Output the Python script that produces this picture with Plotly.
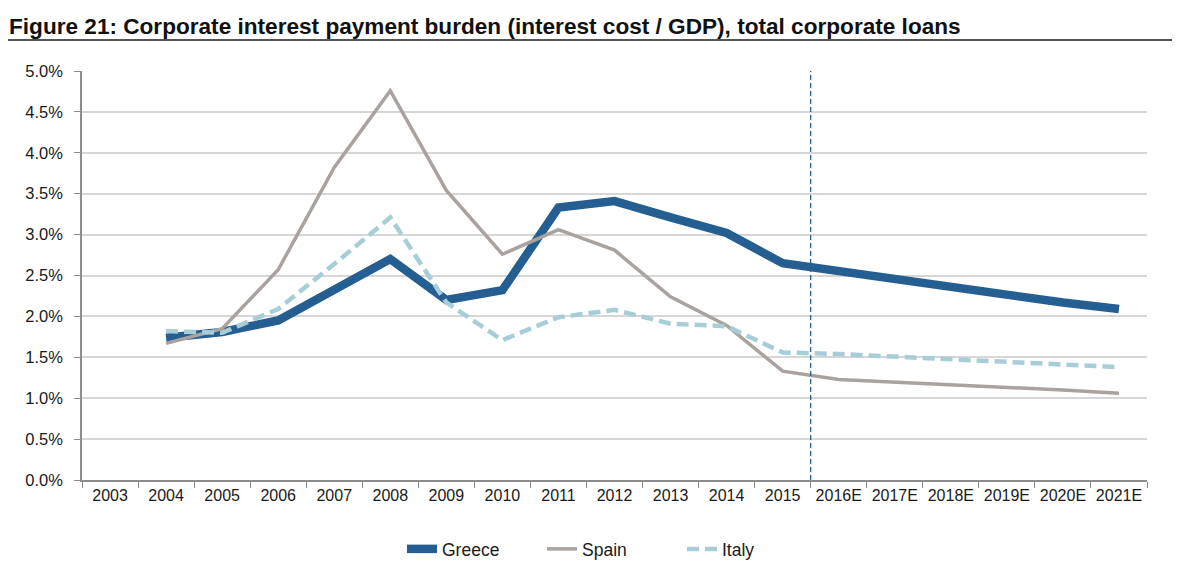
import plotly.graph_objects as go

years = ["2003", "2004", "2005", "2006", "2007", "2008", "2009", "2010", "2011",
         "2012", "2013", "2014", "2015", "2016E", "2017E", "2018E", "2019E",
         "2020E", "2021E"]

greece = [None, 1.74, 1.81, 1.95, 2.32, 2.70, 2.20, 2.32, 3.33, 3.41, 3.21,
          3.02, 2.65, 2.55, 2.45, 2.35, 2.25, 2.17, 2.09]
spain = [None, 1.67, 1.85, 2.57, 3.82, 4.76, 3.54, 2.76, 3.06, 2.81, 2.24,
         1.89, 1.33, 1.23, 1.20, 1.17, 1.13, 1.10, 1.06]
italy = [None, 1.82, 1.80, 2.09, 2.64, 3.21, 2.17, 1.71, 1.99, 2.08, 1.91,
         1.88, 1.56, 1.54, 1.51, 1.48, 1.45, 1.42, 1.38]

def pct(v):
    return [None if x is None else x / 100 for x in v]

FONT = "Liberation Sans, Arial, sans-serif"

fig = go.Figure()
fig.add_trace(go.Scatter(x=years, y=pct(greece), name="Greece", mode="lines",
                         line=dict(color="#255E91", width=8.5)))
fig.add_trace(go.Scatter(x=years, y=pct(spain), name="Spain", mode="lines",
                         line=dict(color="#A9A29F", width=3.5)))
fig.add_trace(go.Scatter(x=years, y=pct(italy), name="Italy", mode="lines",
                         line=dict(color="#A7CDD7", width=4.5, dash="12px,6px")))

# page body has an 8px margin; plot area in page coords: x 82..1147, y 71..480
OFF = 8
W, H = 1200 - OFF, 586 - OFF
L, T = 82 - OFF, 71 - OFF
R = W - (1147 - OFF)
B = H - (480 - OFF)
pw = 1147 - 82
ph = 480 - 71

def px_x(p):
    return (p - 82) / pw

def px_y(p):
    return (480 - p) / ph

fig.update_layout(
    width=W, height=H,
    margin=dict(l=L, r=R, t=T, b=B, pad=0),
    paper_bgcolor="white", plot_bgcolor="white",
    font=dict(family=FONT, size=16, color="#1a1a1a"),
    showlegend=True,
    legend=dict(orientation="h", x=px_x(612), xanchor="center",
                y=px_y(549), yanchor="middle",
                font=dict(size=17.5, color="#1a1a1a"),
                entrywidth=95, entrywidthmode="pixels",
                traceorder="normal"),
    xaxis=dict(type="category", showgrid=False, showline=True,
               linecolor="#8c8c8c", linewidth=1.5,
               ticks="outside", ticklen=6, tickcolor="#8c8c8c",
               tickson="boundaries", tickfont=dict(size=16), tickangle=0,
               range=[-0.5, len(years) - 0.5]),
    yaxis=dict(range=[0, 0.05], dtick=0.005, tickformat=".1%",
               showgrid=True, gridcolor="#D6D6D6", gridwidth=1.5,
               showline=True, linecolor="#8c8c8c", linewidth=1.5,
               ticks="outside", ticklen=6, tickcolor="#8c8c8c",
               ticklabelstandoff=8,
               tickfont=dict(size=16.5), zeroline=False),
    annotations=[dict(
        text="<b>Figure 21: Corporate interest payment burden (interest cost / GDP), total corporate loans</b>",
        xref="paper", yref="paper", x=px_x(7), y=px_y(27),
        xanchor="left", yanchor="middle", showarrow=False,
        font=dict(size=22.6, color="#111111", family=FONT))],
    shapes=[
        dict(type="line", xref="paper", yref="paper",
             x0=px_x(8), x1=px_x(1172),
             y0=px_y(40), y1=px_y(40),
             line=dict(color="#555555", width=2)),
        dict(type="line", xref="x", yref="paper", x0=12.5, x1=12.5,
             y0=0, y1=1, line=dict(color="#2C5F8A", width=1.3, dash="5px,3px")),
    ],
)

fig.write_html("out.html")
